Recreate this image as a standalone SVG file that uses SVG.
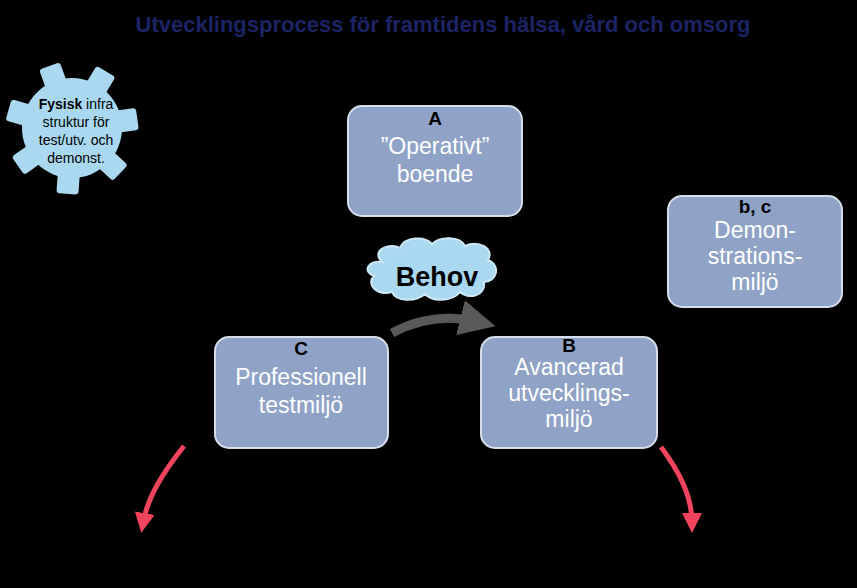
<svg xmlns="http://www.w3.org/2000/svg" width="857" height="588" viewBox="0 0 857 588">
<defs>
<style>
.box{fill:#8ea3c6;stroke:#d6deea;stroke-width:2}
.t{font-family:"Liberation Sans",Arial,sans-serif;fill:#fff;font-size:23px;text-anchor:middle}
.h{font-family:"Liberation Sans",Arial,sans-serif;fill:#000;font-weight:bold;font-size:19px;text-anchor:middle}
.tooth{fill:#a9d8f0}
</style>
<marker id="ag" markerWidth="4" markerHeight="4" refX="2" refY="2" orient="auto"><path d="M0,0L4,2L0,4z" fill="#595959"/></marker>
<marker id="ar" markerWidth="4" markerHeight="4" refX="2" refY="2" orient="auto"><path d="M0,0L4,2L0,4z" fill="#f0445e"/></marker>
</defs>
<rect width="857" height="588" fill="#000"/>
<text x="443" y="32" font-family="Liberation Sans,Arial,sans-serif" font-size="22" font-weight="bold" fill="#1c2466" text-anchor="middle">Utvecklingsprocess för framtidens hälsa, vård och omsorg</text>
<g id="gear" transform="translate(72,128)">
<circle r="50" fill="#a9d8f0"/>
<rect class="tooth" x="-11" y="-66" width="22" height="24" rx="3" transform="rotate(-20)"/>
<rect class="tooth" x="-11" y="-66" width="22" height="24" rx="3" transform="rotate(31)"/>
<rect class="tooth" x="-11" y="-66" width="22" height="24" rx="3" transform="rotate(82)"/>
<rect class="tooth" x="-11" y="-66" width="22" height="24" rx="3" transform="rotate(133)"/>
<rect class="tooth" x="-11" y="-66" width="22" height="24" rx="3" transform="rotate(184)"/>
<rect class="tooth" x="-11" y="-66" width="22" height="24" rx="3" transform="rotate(235)"/>
<rect class="tooth" x="-11" y="-66" width="22" height="24" rx="3" transform="rotate(286)"/>
<text font-family="Liberation Sans,Arial,sans-serif" font-size="14" fill="#000" text-anchor="middle"><tspan x="4" y="-19"><tspan font-weight="bold">Fysisk</tspan> infra</tspan><tspan x="4" y="-1">struktur för</tspan><tspan x="4" y="17">test/utv. och</tspan><tspan x="4" y="35">demonst.</tspan></text>
</g>
<g id="nodeA"><rect class="box" x="348" y="106" width="174" height="110" rx="14"/><text class="h" x="435" y="125">A</text><text class="t" x="435" y="154">”Operativt”</text><text class="t" x="435" y="182">boende</text></g>
<g id="nodeBC"><rect class="box" x="668" y="196" width="174" height="111" rx="14"/><text class="h" x="755" y="213">b, c</text><text class="t" x="755" y="238">Demon-</text><text class="t" x="755" y="264">strations-</text><text class="t" x="755" y="290">miljö</text></g>
<g id="nodeC"><rect class="box" x="215" y="337" width="173" height="111" rx="14"/><text class="h" x="301" y="355">C</text><text class="t" x="301" y="385">Professionell</text><text class="t" x="301" y="413">testmiljö</text></g>
<g id="nodeB"><rect class="box" x="481" y="337" width="176" height="111" rx="14"/><text class="h" x="569" y="352">B</text><text class="t" x="569" y="375">Avancerad</text><text class="t" x="569" y="401">utvecklings-</text><text class="t" x="569" y="427">miljö</text></g>
<g id="behov">
<path d="M382,262 C370,250 390,242 400,248 C405,236 425,236 432,244 C440,236 460,236 465,246 C478,240 495,248 488,260 C502,266 496,282 484,282 C486,296 468,300 460,292 C452,302 432,302 425,294 C416,302 396,302 392,292 C376,296 366,284 374,276 C362,272 368,260 382,262 Z" fill="#a9d8f0" stroke="#cde9f7" stroke-width="2"/>
<text x="437" y="286" font-family="Liberation Sans,Arial,sans-serif" font-size="27" font-weight="bold" fill="#000" text-anchor="middle">Behov</text>
</g>
<g id="connectors">
<path d="M392,333 C420,318 450,315 478,322" fill="none" stroke="#595959" stroke-width="9" marker-end="url(#ag)"/>
<path d="M184,446 C165,470 148,495 143,523" fill="none" stroke="#f0445e" stroke-width="5" marker-end="url(#ar)"/>
<path d="M661,447 C678,470 692,495 692,523" fill="none" stroke="#f0445e" stroke-width="5" marker-end="url(#ar)"/>
</g>
</svg>
